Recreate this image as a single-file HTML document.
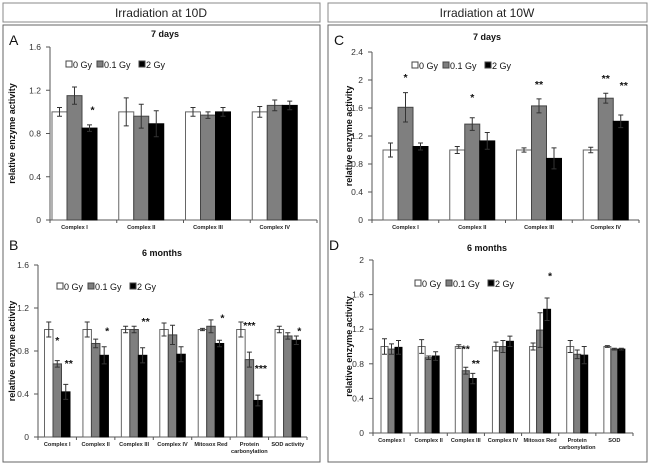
<!DOCTYPE html>
<html><head><meta charset="utf-8">
<style>
html,body{margin:0;padding:0;background:#fff;}
svg{display:block;font-family:"Liberation Sans",Arial,sans-serif;}
</style></head>
<body>
<svg id="fig" width="650" height="467" viewBox="0 0 650 467">
  <rect x="3" y="3" width="317" height="19" fill="#fff" stroke="#888"/>
  <text x="161" y="17" font-size="12" text-anchor="middle" fill="#222">Irradiation at 10D</text>
  <rect x="328" y="3" width="319" height="19" fill="#fff" stroke="#888"/>
  <text x="487" y="17" font-size="12" text-anchor="middle" fill="#222">Irradiation at 10W</text>
  <rect x="3" y="25" width="317" height="437" fill="none" stroke="#666"/>
  <rect x="328" y="25" width="319" height="437" fill="none" stroke="#666"/>
</svg>
<script>
// ---- Panel A data ----
const catsA = ["Complex I","Complex II","Complex III","Complex IV"];
const ticksA = [0,0.4,0.8,1.2,1.6];
const a0 = [1.0,1.0,1.0,1.0];
const a0err = [0.04,0.13,0.04,0.05];
const a1 = [1.15,0.96,0.97,1.06];
const a1err = [0.08,0.11,0.03,0.05];
const a2 = [0.85,0.89,1.0,1.06];
const a2err = [0.03,0.12,0.04,0.04];
const a1star = ["","","",""];
const a1starLv = [0,0,0,0];
const a2star = ["*","","",""];
const a2starLv = [1.03,0,0,0];
// ---- Panel B data ----
const catsB = ["Complex I","Complex II","Complex III","Complex IV","Mitosox Red","Protein|carbonylation","SOD activity"];
const ticksB = [0,0.4,0.8,1.2,1.6];
const b0 = [1,1,1,1,1,1,1];
const b0err = [0.07,0.07,0.03,0.06,0.01,0.07,0.03];
const b1 = [0.68,0.87,1.0,0.95,1.03,0.72,0.94];
const b1err = [0.03,0.04,0.03,0.09,0.06,0.07,0.03];
const b2 = [0.42,0.76,0.76,0.77,0.87,0.34,0.90];
const b2err = [0.07,0.08,0.07,0.07,0.03,0.05,0.04];
const b1star = ["*","","","","","***",""];
const b1starLv = [0.91,0,0,0,0,1.05,0];
const b2star = ["**","*","**","","*","***","*"];
const b2starLv = [0.70,1.0,1.09,0,1.12,0.65,1.0];
// ---- Panel C data ----
const catsC = ["Complex I","Complex II","Complex III","Complex IV"];
const ticksC = [0,0.4,0.8,1.2,1.6,2,2.4];
const c0 = [1,1,1,1];
const c0err = [0.1,0.05,0.03,0.04];
const c1 = [1.61,1.37,1.63,1.74];
const c1err = [0.21,0.09,0.1,0.07];
const c2 = [1.05,1.13,0.88,1.41];
const c2err = [0.05,0.12,0.15,0.09];
const c1star = ["*","*","**","**"];
const c1starLv = [2.06,1.77,1.96,2.04];
const c2star = ["","","","**"];
const c2starLv = [0,0,0,1.94];
// ---- Panel D data ----
const catsD = ["Complex I","Complex II","Complex III","Complex IV","Mitosox Red","Protein|carbonylation","SOD"];
const ticksD = [0,0.4,0.8,1.2,1.6,2];
const d0 = [1,1,1,1,1,1,1];
const d0err = [0.09,0.08,0.02,0.05,0.04,0.07,0.01];
const d1 = [0.97,0.87,0.72,1.0,1.19,0.91,0.97];
const d1err = [0.06,0.02,0.04,0.07,0.2,0.05,0.01];
const d2 = [0.99,0.89,0.63,1.06,1.43,0.9,0.97];
const d2err = [0.08,0.05,0.06,0.06,0.13,0.1,0.01];
const d1star = ["","","**","","","",""];
const d1starLv = [0,0,0.99,0,0,0,0];
const d2star = ["","","**","","*","",""];
const d2starLv = [0,0,0.82,0,1.83,0,0];

const NS = "http://www.w3.org/2000/svg";
const svg = document.getElementById("fig");
function mk(tag, attrs, parent){
  const e = document.createElementNS(NS, tag);
  for (const k in attrs) e.setAttribute(k, attrs[k]);
  (parent||svg).appendChild(e);
  return e;
}

function panel(p){
  const g = mk("g", {});
  
  
  const yScale = v => p.y0 - (v / p.vmax) * (p.y0 - p.yTop);
  const catW = (p.xEnd - p.x0) / p.cats.length;
  const xCat = i => p.x0 + i * catW;
  const L = mk("text", {x:p.letX, y:p.letY, "font-size":14, fill:"#111"}, g);
  L.textContent = p.id.toUpperCase();
  
  
  const T = mk("text", {x:p.titleX, y:p.titleY, "font-size":9, "font-weight":"bold", "text-anchor":"middle", fill:"#111"}, g);
  T.textContent = p.title;
  
  
  const yt = mk("text", {x:0, y:0, "font-size":9, "font-weight":"bold", "text-anchor":"middle", fill:"#111",
    transform:`translate(${p.ytX},${(p.y0+p.yTop)/2}) rotate(-90)`}, g);
  yt.textContent = "relative enzyme activity";
  
  
  p.ticks.forEach(t => {
    const y = yScale(t);
    const tl = mk("line", {x1:p.x0-4, x2:p.x0, y1:y, y2:y, stroke:"#555", "stroke-width":1}, g);
    
    
    const tx = mk("text", {x:p.x0-9, y:y+3, "font-size":8.5, "text-anchor":"end", fill:"#333"}, g);
    tx.textContent = String(t);
    
    
  });
  const ya = mk("line", {x1:p.x0, x2:p.x0, y1:p.yTop, y2:p.y0, stroke:"#555", "stroke-width":1}, g);
  
  
  const xa = mk("line", {x1:p.x0, x2:p.xEnd, y1:p.y0, y2:p.y0, stroke:"#555", "stroke-width":1}, g);
  
  
  for (let i=0;i<=p.cats.length;i++){
    const xt = mk("line", {x1:xCat(i), x2:xCat(i), y1:p.y0, y2:p.y0+3, stroke:"#555"}, g);
    
    
  }
  const series = [
    {v:p.s0, e:p.e0, fill:"#fff", stroke:"#666", st:null, sl:null, name:"0-gy"},
    {v:p.s1, e:p.e1, fill:"#7f7f7f", stroke:"#444", st:p.st1, sl:p.sl1, name:"0.1-gy"},
    {v:p.s2, e:p.e2, fill:"#000", stroke:"#000", st:p.st2, sl:p.sl2, name:"2-gy"}
  ];
  p.cats.forEach((c,i) => {
    series.forEach((s,k) => {
      const bx = xCat(i) + p.pad + k*p.bw;
      const top = yScale(s.v[i]);
      const r = mk("rect", {x:bx, y:top, width:p.bw, height:p.y0-top, fill:s.fill, stroke:s.stroke, "stroke-width":1}, g);
      
      
      const cx = bx + p.bw/2;
      const eh = yScale(s.v[i]+s.e[i]), el = yScale(s.v[i]-s.e[i]);
      const ep = mk("path", {d:`M${cx},${eh}V${el}M${cx-2.5},${eh}H${cx+2.5}M${cx-2.5},${el}H${cx+2.5}`, stroke:"#333", "stroke-width":1, fill:"none"}, g);
      
      
      if (s.st && s.st[i]){
        const stx = mk("text", {x:cx+(k===2?3:0), y:yScale(s.sl[i])+5, "font-size":10.5, "font-weight":"bold", "text-anchor":"middle", fill:"#111"}, g);
        stx.textContent = s.st[i];
        
        
      }
    });
    const lx = xCat(i) + p.pad + 1.5*p.bw;
    c.split("|").forEach((ln,j) => {
      const t = mk("text", {x:lx, y:p.y0+9+j*7, "font-size":5.6, "font-weight":"bold", "text-anchor":"middle", fill:"#222"}, g);
      t.textContent = ln;
      
      
    });
  });
  const lg = mk("g", {}, g);
  
  
  const labs = ["0 Gy","0.1 Gy","2 Gy"], fills=["#fff","#7f7f7f","#000"], offs=[0,31,73];
  labs.forEach((lab,k) => {
    const sx = p.legX + offs[k];
    const sw = mk("rect", {x:sx, y:p.legY-7, width:6, height:6, fill:fills[k], stroke:"#444"}, lg);
    
    
    const t = mk("text", {x:sx+7, y:p.legY, "font-size":9, fill:"#111"}, lg);
    t.textContent = lab;
    
    
  });
}

panel({id:"a", title:"7 days", titleX:165, titleY:37, letX:9, letY:45, cats:catsA, ticks:ticksA, vmax:1.6,
  x0:50, xEnd:317, yTop:47, y0:220, pad:2, bw:15, ytX:15, legX:66, legY:68,
  s0:a0,e0:a0err,s1:a1,e1:a1err,s2:a2,e2:a2err,st1:a1star,sl1:a1starLv,st2:a2star,sl2:a2starLv});
panel({id:"b", title:"6 months", titleX:162, titleY:256, letX:9, letY:250, cats:catsB, ticks:ticksB, vmax:1.6,
  x0:38, xEnd:307, yTop:265, y0:437, pad:6.5, bw:8.5, ytX:15, legX:57, legY:290,
  s0:b0,e0:b0err,s1:b1,e1:b1err,s2:b2,e2:b2err,st1:b1star,sl1:b1starLv,st2:b2star,sl2:b2starLv});
panel({id:"c", title:"7 days", titleX:487, titleY:40, letX:334, letY:45, cats:catsC, ticks:ticksC, vmax:2.4,
  x0:372, xEnd:639, yTop:52, y0:220, pad:11, bw:15, ytX:352, legX:412, legY:69,
  s0:c0,e0:c0err,s1:c1,e1:c1err,s2:c2,e2:c2err,st1:c1star,sl1:c1starLv,st2:c2star,sl2:c2starLv});
panel({id:"d", title:"6 months", titleX:487, titleY:251, letX:329, letY:250, cats:catsD, ticks:ticksD, vmax:2,
  x0:373, xEnd:633, yTop:260, y0:433, pad:8, bw:7, ytX:352, legX:415, legY:287,
  s0:d0,e0:d0err,s1:d1,e1:d1err,s2:d2,e2:d2err,st1:d1star,sl1:d1starLv,st2:d2star,sl2:d2starLv});
</script>
</body></html>
